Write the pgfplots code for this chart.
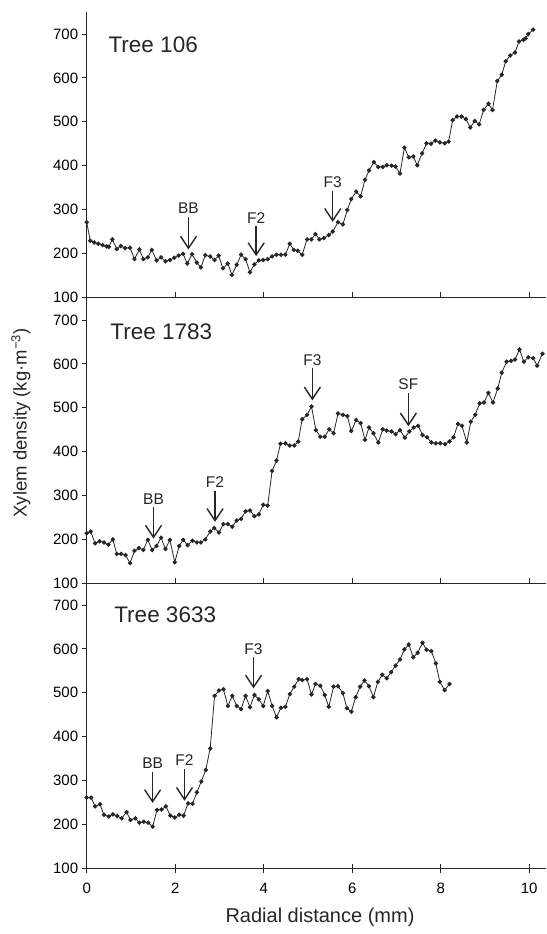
\documentclass[border=0pt]{standalone}
\usepackage{fontspec}
\setmainfont{Liberation Sans}
\usepackage{pgfplots}
\usepackage{pgfplotstable}
\pgfplotsset{compat=1.18}
\usetikzlibrary{arrows.meta}

\pgfplotstableread{
x y
0 271
0.08 229
0.17 225
0.26 222
0.36 219
0.45 216
0.5 215
0.58 232
0.68 210
0.77 217
0.87 212
0.98 213
1.08 187
1.19 209
1.28 187
1.38 191
1.47 208
1.58 184
1.68 191
1.78 182
1.88 185
1.98 190
2.08 195
2.18 199
2.27 177
2.38 198
2.49 179
2.58 168
2.68 196
2.79 193
2.89 185
2.98 195
3.08 166
3.19 177
3.28 151
3.39 174
3.49 197
3.59 187
3.69 157
3.79 175
3.89 184
3.99 185
4.09 187
4.19 193
4.29 197
4.39 197
4.49 197
4.59 222
4.68 208
4.77 206
4.87 197
4.98 232
5.08 232
5.17 244
5.26 232
5.36 235
5.47 242
5.56 250
5.68 271
5.79 266
5.89 299
5.98 324
6.09 341
6.19 330
6.29 368
6.38 389
6.49 408
6.59 397
6.69 397
6.78 401
6.89 400
6.98 398
7.08 382
7.18 441
7.28 419
7.38 421
7.47 401
7.58 428
7.68 451
7.78 450
7.88 457
7.98 453
8.09 451
8.18 455
8.27 504
8.37 512
8.47 512
8.57 506
8.67 487
8.77 502
8.87 494
8.97 527
9.08 541
9.17 527
9.28 593
9.38 607
9.47 638
9.57 651
9.68 658
9.77 683
9.87 687
9.92 690
9.98 700
10.09 710
}\treeA

\pgfplotstableread{
x y
0 214
0.09 218
0.19 191
0.29 196
0.39 193
0.49 188
0.59 200
0.68 167
0.78 167
0.88 164
0.98 146
1.08 174
1.18 180
1.28 176
1.38 199
1.48 176
1.58 185
1.68 204
1.78 178
1.88 199
1.99 148
2.09 185
2.18 199
2.28 187
2.39 197
2.49 193
2.58 193
2.68 200
2.79 218
2.88 226
2.99 216
3.09 235
3.19 235
3.29 229
3.39 243
3.49 247
3.59 264
3.69 266
3.79 253
3.89 257
3.99 279
4.09 277
4.19 356
4.29 380
4.38 418
4.49 419
4.59 414
4.69 414
4.78 423
4.87 474
4.98 484
5.08 503
5.18 449
5.28 434
5.38 434
5.48 451
5.58 442
5.68 487
5.79 484
5.89 481
5.98 447
6.09 472
6.19 465
6.29 427
6.38 455
6.48 442
6.59 421
6.69 451
6.78 448
6.89 446
6.98 440
7.08 449
7.19 432
7.29 446
7.39 455
7.49 459
7.59 438
7.69 433
7.79 421
7.89 419
7.99 419
8.1 417
8.2 423
8.29 433
8.39 463
8.48 459
8.59 421
8.68 468
8.78 484
8.88 510
8.98 512
9.08 534
9.18 512
9.29 544
9.38 580
9.49 605
9.59 607
9.68 610
9.78 633
9.88 605
9.98 615
10.09 613
10.18 596
10.3 623
}\treeB

\pgfplotstableread{
x y
0 261
0.1 261
0.19 241
0.3 246
0.39 222
0.5 218
0.59 223
0.69 219
0.79 214
0.9 228
0.99 210
1.1 214
1.19 204
1.29 206
1.39 204
1.49 195
1.59 233
1.69 234
1.79 241
1.89 220
1.99 216
2.09 222
2.19 220
2.29 248
2.39 247
2.49 273
2.59 298
2.69 324
2.79 373
2.89 493
2.99 505
3.09 508
3.19 470
3.29 493
3.39 470
3.49 463
3.59 493
3.69 467
3.79 495
3.89 485
3.99 470
4.09 504
4.19 470
4.29 444
4.39 466
4.49 468
4.59 497
4.69 514
4.79 531
4.87 529
4.98 531
5.08 496
5.17 520
5.28 516
5.38 495
5.47 468
5.58 514
5.68 515
5.79 499
5.88 465
5.98 457
6.08 490
6.18 514
6.28 528
6.38 515
6.48 490
6.58 525
6.68 541
6.78 533
6.88 547
6.98 562
7.08 576
7.18 599
7.28 610
7.38 581
7.48 591
7.59 614
7.68 598
7.79 595
7.89 567
7.98 525
8.09 506
8.2 520
}\treeC

\pgfplotsset{
  panel/.style={
    scale only axis, width=459.3pt, height=285.2pt,
    xmin=0, xmax=10.38, ymin=100, ymax=750,
    axis x line*=bottom, axis y line*=left,
    xtick={0,2,...,10}, ytick={100,200,...,700},
    /pgf/number format/assume math mode=true,
    tick label style={font=\fontsize{15}{17}\selectfont},
    ytick align=outside, major tick length=5pt,
    axis line style={line width=0.9pt, black!85},
    tick style={line width=0.9pt, black!85},
    clip=false,
  },
  series/.style={black!85, line width=0.8pt, mark=*, mark size=1.8pt, mark options={solid}},
}
\tikzset{
  ann/.style={-{Straight Barb[length=12pt,width=16pt]}, line width=1.4pt, black!85},
  annlab/.style={font=\fontsize{15.5}{17}\selectfont, inner sep=0pt, text=black!85},
  treelab/.style={font=\fontsize{22.5}{25}\selectfont, inner sep=0pt, anchor=west, text=black!85},
}

\begin{document}
\begin{tikzpicture}
% Tree 106
\begin{axis}[panel, at={(0,571pt)}, anchor=south west, xtick align=inside, xticklabels={}]
\addplot[series] table[x=x,y=y] {\treeA};
\node[treelab] at (axis cs:0.49,676) {Tree 106};
\draw[ann] (axis cs:2.30,283) -- (axis cs:2.30,209);
\node[annlab] at (axis cs:2.30,302) {BB};
\draw[ann] (axis cs:3.83,263) -- (axis cs:3.83,194);
\node[annlab] at (axis cs:3.83,281) {F2};
\draw[ann] (axis cs:5.56,343) -- (axis cs:5.56,272);
\node[annlab] at (axis cs:5.56,363) {F3};
\end{axis}
% Tree 1783
\begin{axis}[panel, at={(0,285pt)}, anchor=south west, xtick align=inside, xticklabels={}]
\addplot[series] table[x=x,y=y] {\treeB};
\node[treelab] at (axis cs:0.53,674) {Tree 1783};
\draw[ann] (axis cs:1.51,273) -- (axis cs:1.51,202);
\node[annlab] at (axis cs:1.51,292) {BB};
\draw[ann] (axis cs:2.90,311) -- (axis cs:2.90,240);
\node[annlab] at (axis cs:2.90,331) {F2};
\draw[ann] (axis cs:5.10,590) -- (axis cs:5.10,517);
\node[annlab] at (axis cs:5.10,609) {F3};
\draw[ann] (axis cs:7.27,533) -- (axis cs:7.27,458);
\node[annlab] at (axis cs:7.27,553) {SF};
\end{axis}
% Tree 3633
\begin{axis}[panel, at={(0,0)}, anchor=south west, xtick align=center,
  xtick style={/pgfplots/major tick length=9pt},
  xticklabel style={yshift=-9pt}]
\addplot[series] table[x=x,y=y] {\treeC};
\node[treelab] at (axis cs:0.62,677) {Tree 3633};
\draw[ann] (axis cs:1.49,320) -- (axis cs:1.49,249);
\node[annlab] at (axis cs:1.49,340) {BB};
\draw[ann] (axis cs:2.21,326) -- (axis cs:2.21,254);
\node[annlab] at (axis cs:2.21,347) {F2};
\draw[ann] (axis cs:3.77,582) -- (axis cs:3.77,510);
\node[annlab] at (axis cs:3.77,600) {F3};
\end{axis}
\node[rotate=90, font=\fontsize{18.5}{20}\selectfont, text=black!85] at (-65.7pt,445.3pt) {Xylem density (kg·m\textsuperscript{−3})};
\node[anchor=base, font=\fontsize{20}{22}\selectfont, text=black!85] at (233.3pt,-54.7pt) {Radial distance (mm)};
\pgfresetboundingbox
\path (-86.7pt,-65.7pt) rectangle (459.3pt,868.3pt);
\end{tikzpicture}
\end{document}
